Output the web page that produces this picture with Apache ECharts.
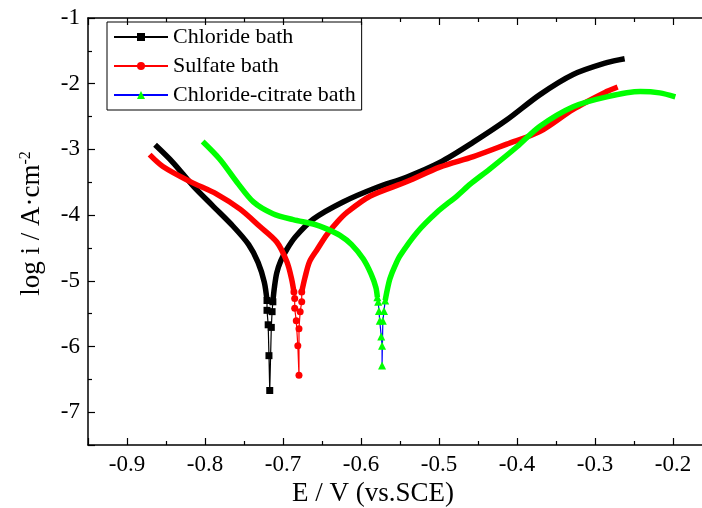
<!DOCTYPE html>
<html>
<head>
    <meta charset="utf-8">
    <title>Tafel</title>
    <script src="https://cdn.jsdelivr.net/npm/echarts@6/dist/echarts.min.js"></script>
</head>
<body style="margin:0">
    <div id="main" style="width: 702px;height:508px;"></div>
    <script type="text/javascript">
        var myChart = echarts.init(document.getElementById('main'));

        var legendNames = ['Chloride bath', 'Sulfate bath', 'Chloride-citrate bath'];

        // [E (V vs SCE), log i]
        var chlorideCath = [[-0.864,-2.93],[-0.841,-3.20],[-0.815,-3.56],[-0.790,-3.86],[-0.764,-4.17],[-0.744,-4.45],[-0.732,-4.72],[-0.724,-5.02],[-0.7205,-5.30]];
        var chlorideTip = [[-0.7205,-5.30],[-0.7205,-5.45],[-0.719,-5.67],[-0.718,-6.14],[-0.717,-6.67],[-0.715,-5.71],[-0.714,-5.47],[-0.713,-5.32]];
        var chlorideAnod = [[-0.713,-5.32],[-0.711,-5.10],[-0.708,-4.88],[-0.703,-4.70],[-0.695,-4.52],[-0.684,-4.33],[-0.661,-4.06],[-0.623,-3.80],[-0.580,-3.58],[-0.541,-3.42],[-0.499,-3.20],[-0.456,-2.89],[-0.413,-2.55],[-0.371,-2.17],[-0.328,-1.86],[-0.285,-1.68],[-0.262,-1.62]];

        var sulfateCath = [[-0.871,-3.08],[-0.854,-3.26],[-0.819,-3.49],[-0.785,-3.68],[-0.755,-3.91],[-0.730,-4.17],[-0.708,-4.41],[-0.695,-4.71],[-0.689,-4.97],[-0.686,-5.17]];
        var sulfateTip = [[-0.686,-5.17],[-0.685,-5.27],[-0.685,-5.42],[-0.683,-5.61],[-0.681,-5.99],[-0.6795,-6.44],[-0.6795,-5.73],[-0.678,-5.47],[-0.676,-5.32],[-0.676,-5.17]];
        var sulfateAnod = [[-0.676,-5.17],[-0.672,-4.96],[-0.666,-4.71],[-0.656,-4.52],[-0.644,-4.30],[-0.630,-4.10],[-0.618,-3.96],[-0.588,-3.71],[-0.541,-3.49],[-0.499,-3.27],[-0.456,-3.11],[-0.413,-2.92],[-0.371,-2.73],[-0.328,-2.39],[-0.285,-2.12],[-0.271,-2.05]];

        var citrateCath = [[-0.803,-2.88],[-0.781,-3.15],[-0.759,-3.50],[-0.738,-3.80],[-0.713,-3.98],[-0.687,-4.07],[-0.660,-4.14],[-0.644,-4.21],[-0.627,-4.31],[-0.612,-4.45],[-0.597,-4.67],[-0.587,-4.90],[-0.581,-5.10],[-0.579,-5.25]];
        var citrateTip = [[-0.579,-5.25],[-0.578,-5.32],[-0.577,-5.46],[-0.576,-5.61],[-0.574,-5.85],[-0.573,-5.99],[-0.573,-6.29],[-0.572,-5.61],[-0.5705,-5.46],[-0.569,-5.30]];
        var citrateAnod = [[-0.569,-5.30],[-0.566,-5.12],[-0.563,-4.97],[-0.557,-4.79],[-0.550,-4.62],[-0.528,-4.26],[-0.503,-3.96],[-0.477,-3.71],[-0.460,-3.53],[-0.435,-3.30],[-0.400,-2.96],[-0.371,-2.65],[-0.328,-2.35],[-0.285,-2.20],[-0.242,-2.12],[-0.217,-2.14],[-0.197,-2.20]];

        var serif = 'Liberation Serif';

        function thick(name, data, color) {
            return {
                name: name, type: 'line', data: data, showSymbol: false, symbol: 'none',
                smooth: 0.3, silent: true,
                lineStyle: { color: color, width: 5.5 }
            };
        }
        function tip(name, data, lineColor, markColor, symbol, size) {
            return {
                name: name, type: 'line', data: data, symbol: symbol, symbolSize: size,
                showAllSymbol: true,
                lineStyle: { color: lineColor, width: 1.2 },
                itemStyle: { color: markColor }
            };
        }

        var xTicks = function (v) {
            var r = Math.round(v * 10) / 10;
            return Math.abs(r - v) < 1e-6 ? r.toFixed(1) : '';
        };
        var yTicks = function (v) {
            return Math.abs(Math.round(v) - v) < 1e-6 ? String(Math.round(v)) : '';
        };

        var axisCommon = {
            axisLine: { show: true, onZero: false, lineStyle: { color: '#000', width: 1.5 } },
            axisTick: { show: true, inside: true, length: 7, lineStyle: { color: '#000', width: 1.2 } },
            minorTick: { show: true, splitNumber: 2, length: 4, lineStyle: { color: '#000', width: 1.2 } },
            splitLine: { show: false }
        };

        var option = {
            animation: false,
            backgroundColor: '#fff',
            grid: { left: 88, top: 18, right: -10, bottom: 63, outerBoundsMode: 'none', containLabel: false },
            legend: {
                data: legendNames,
                orient: 'vertical',
                left: 107, top: 22,
                padding: [4, 6, 4, 6],
                itemGap: 7,
                itemWidth: 54, itemHeight: 10,
                borderColor: '#000', borderWidth: 1, borderRadius: 0,
                textStyle: { fontFamily: serif, fontSize: 22, color: '#000' }
            },
            xAxis: [
                Object.assign({
                    type: 'value', min: -0.95, max: -0.15, splitNumber: 8,
                    name: 'E / V (vs.SCE)', nameLocation: 'middle', nameGap: 34,
                    nameTextStyle: { fontFamily: serif, fontSize: 27, color: '#000', padding: [0, 54, 0, 0] },
                    axisLabel: { formatter: xTicks, fontFamily: serif, fontSize: 23, color: '#000', margin: 8 }
                }, axisCommon),
                Object.assign({
                    type: 'value', position: 'top', min: -0.95, max: -0.15, splitNumber: 8,
                    axisLabel: { show: false }
                }, axisCommon)
            ],
            yAxis: Object.assign({
                type: 'value', min: -7.5, max: -1, splitNumber: 7,
                name: '{a|log i / A·cm}{s|-2}', nameLocation: 'middle', nameRotate: 90, nameGap: 42,
                nameTextStyle: {
                    fontFamily: serif, color: '#000', padding: [0, 0, 0, 16],
                    rich: {
                        a: { fontFamily: serif, fontSize: 27, color: '#000' },
                        s: { fontFamily: serif, fontSize: 16, color: '#000', verticalAlign: 'top', padding: [0, 0, 12, 0] }
                    }
                },
                axisLabel: { formatter: yTicks, fontFamily: serif, fontSize: 23, color: '#000', margin: 8 }
            }, axisCommon),
            series: [
                thick('cl-cath', chlorideCath, '#000'),
                thick('cl-anod', chlorideAnod, '#000'),
                tip(legendNames[0], chlorideTip, '#000', '#000', 'rect', 7),
                thick('su-cath', sulfateCath, '#ff0000'),
                thick('su-anod', sulfateAnod, '#ff0000'),
                tip(legendNames[1], sulfateTip, '#ff0000', '#ff0000', 'circle', 7),
                thick('ci-cath', citrateCath, '#00ff00'),
                thick('ci-anod', citrateAnod, '#00ff00'),
                tip(legendNames[2], citrateTip, '#0000ff', '#00ff00', 'triangle', 8)
            ]
        };

        myChart.setOption(option);
    </script>
</body>
</html>
